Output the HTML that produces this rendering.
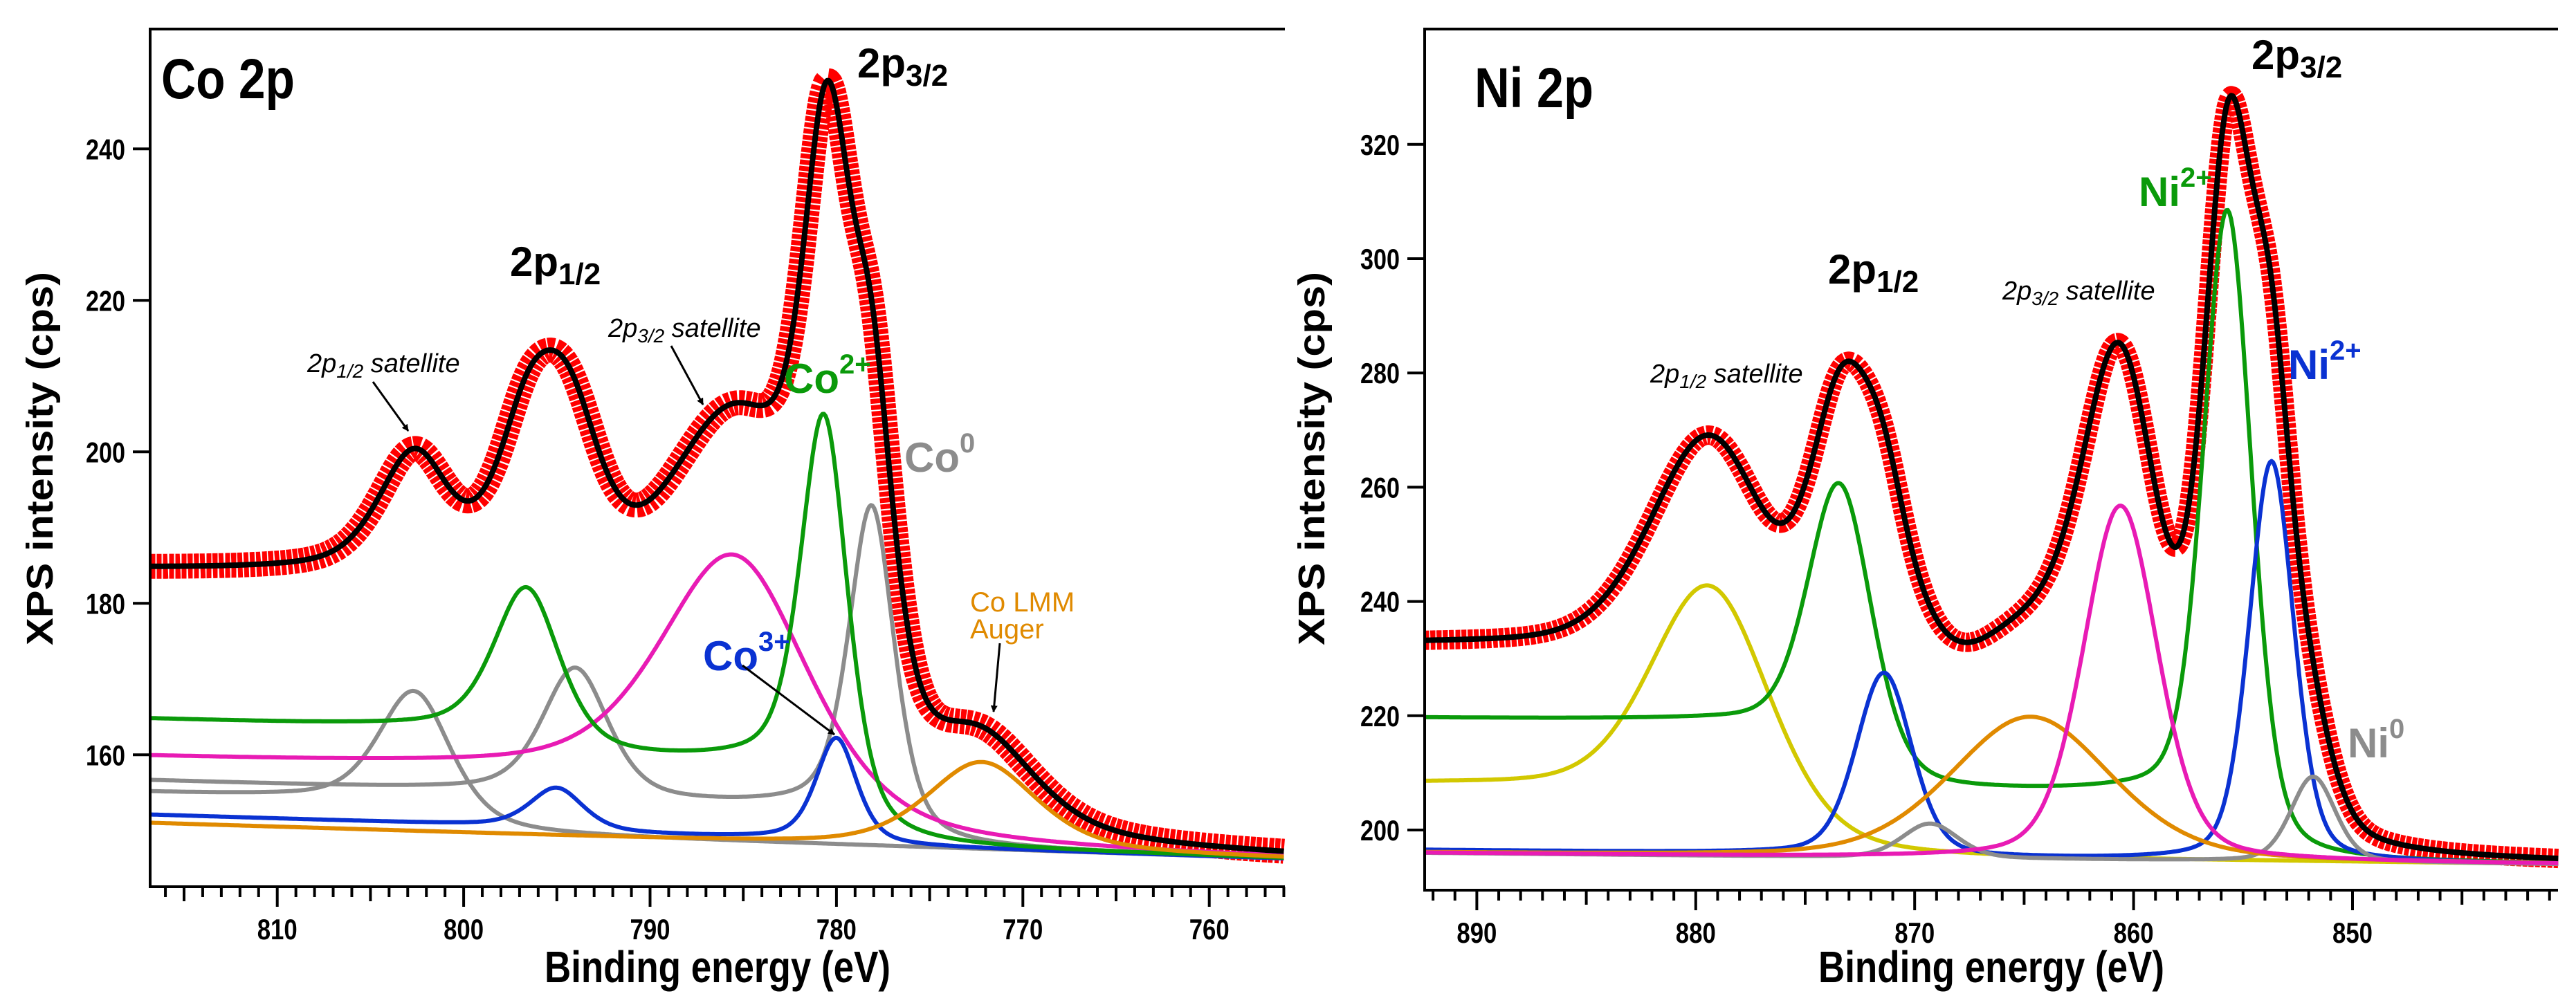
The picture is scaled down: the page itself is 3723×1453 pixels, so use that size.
<!DOCTYPE html>
<html><head><meta charset="utf-8">
<style>
html,body{margin:0;padding:0;background:#fff;}
svg{display:block;}
.tk{font-family:"Liberation Sans Narrow","Liberation Sans",sans-serif;font-weight:bold;font-size:42px;}
.ttl{font-family:"Liberation Sans Narrow","Liberation Sans",sans-serif;font-weight:bold;}
.yt{font-family:"Liberation Sans",sans-serif;font-weight:bold;font-size:54px;}
.it{font-family:"Liberation Sans Narrow","Liberation Sans",sans-serif;font-style:italic;font-size:38px;}
</style></head>
<body>
<svg id="fig" width="3723" height="1453" viewBox="0 0 3723 1453" xmlns="http://www.w3.org/2000/svg">
<defs>
<marker id="ah" markerWidth="10" markerHeight="10" refX="9" refY="5" orient="auto" markerUnits="userSpaceOnUse"><path d="M0,0 L10,5 L0,10 z" fill="#000"/></marker>
<clipPath id="clipCo"><rect x="217" y="30" width="1642" height="1252"/></clipPath>
<clipPath id="clipNi"><rect x="2059" y="30" width="1640" height="1257"/></clipPath>
</defs>
<g id="co"></g>
<g id="ni"></g>

<!-- Co labels -->
<text class="ttl" x="233" y="142" font-size="82" textLength="193" lengthAdjust="spacingAndGlyphs">Co 2p</text>
<text class="ttl" x="1239" y="112" font-size="60">2p<tspan font-size="44" dy="12">3/2</tspan></text>
<text class="ttl" x="737" y="399" font-size="60">2p<tspan font-size="44" dy="12">1/2</tspan></text>
<text class="it" x="444" y="538">2p<tspan font-size="28" dy="8">1/2</tspan><tspan dy="-8"> satellite</tspan></text>
<line x1="539" y1="552" x2="590" y2="623" stroke="#000" stroke-width="3" marker-end="url(#ah)"/>
<text class="it" x="879" y="487">2p<tspan font-size="28" dy="8">3/2</tspan><tspan dy="-8"> satellite</tspan></text>
<line x1="970" y1="500" x2="1016" y2="585" stroke="#000" stroke-width="3" marker-end="url(#ah)"/>
<text class="ttl" x="1133" y="568" font-size="60" fill="#0a9a0a">Co<tspan font-size="40" dy="-28">2+</tspan></text>
<text class="ttl" x="1307" y="682" font-size="60" fill="#8c8c8c">Co<tspan font-size="40" dy="-28">0</tspan></text>
<text class="ttl" x="1016" y="969" font-size="60" fill="#0a32d2">Co<tspan font-size="40" dy="-28">3+</tspan></text>
<line x1="1073" y1="962" x2="1206" y2="1062" stroke="#000" stroke-width="3" marker-end="url(#ah)"/>
<text class="ttl" x="1402" y="884" font-size="40" fill="#e08a00" style="font-weight:normal">Co LMM</text>
<text class="ttl" x="1402" y="923" font-size="40" fill="#e08a00" style="font-weight:normal">Auger</text>
<line x1="1445" y1="930" x2="1436" y2="1029" stroke="#000" stroke-width="3" marker-end="url(#ah)"/>

<!-- Ni labels -->
<text class="ttl" x="2131" y="155" font-size="82" textLength="172" lengthAdjust="spacingAndGlyphs">Ni 2p</text>
<text class="ttl" x="3254" y="100" font-size="60">2p<tspan font-size="44" dy="12">3/2</tspan></text>
<text class="ttl" x="2642" y="410" font-size="60">2p<tspan font-size="44" dy="12">1/2</tspan></text>
<text class="it" x="2894" y="433">2p<tspan font-size="28" dy="8">3/2</tspan><tspan dy="-8"> satellite</tspan></text>
<text class="it" x="2385" y="553">2p<tspan font-size="28" dy="8">1/2</tspan><tspan dy="-8"> satellite</tspan></text>
<text class="ttl" x="3091" y="298" font-size="60" fill="#0a9a0a">Ni<tspan font-size="40" dy="-28">2+</tspan></text>
<text class="ttl" x="3307" y="548" font-size="60" fill="#0a32d2">Ni<tspan font-size="40" dy="-28">2+</tspan></text>
<text class="ttl" x="3393" y="1095" font-size="60" fill="#8c8c8c">Ni<tspan font-size="40" dy="-28">0</tspan></text>
</svg>
<script>
// ---------- Co 2p data ----------
const coXTicks = [810, 800, 790, 780, 770, 760];
const coYTicks = [160, 180, 200, 220, 240];
const coBaseline = [151.0, 146.3];           // cps at 816.8 eV and 756 eV
const coNames = ['co-gray-sat-a','co-gray-b','co-magenta','co-blue','co-green','co-orange'];
const coColors = ['#8c8c8c','#8c8c8c','#e81bb4','#0a32d2','#0a9a0a','#e08a00'];
const coCenters = [[802.6],[794.0,778.1],[785.4],[795.0,780.0],[796.6,780.65],[772.2]];
const coHeights = [[16.5],[17,42.5],[33.5],[5.5,13.8],[20.5,51.5],[11.5]];
const coWidths  = [[4.6],[4.2,2.9],[9.5],[3.4,2.6],[4.2,3.0],[7.0]];
const coSteps   = [[4.0],[1.0,4.6],[8.6],[0.6,0.5],[3.5,10.2],[0]];

// ---------- Ni 2p data ----------
const niXTicks = [890, 880, 870, 860, 850];
const niYTicks = [200, 220, 240, 260, 280, 300, 320];
const niBaseline = [196.0, 194.0];           // cps at 892.4 eV and 840.6 eV
const niNames = ['ni-yellow','ni-green','ni-blue','ni-gray','ni-orange','ni-magenta'];
const niColors = ['#d2c800','#0a9a0a','#0a32d2','#8c8c8c','#e08a00','#e81bb4'];
const niCenters = [[879.3],[873.4,855.7],[871.4,853.7],[869.3,851.8],[864.7],[860.6]];
const niHeights = [[41.2],[47.6,108],[32,70],[6,14.9],[24.9],[62]];
const niWidths  = [[6.4],[3.4,2.6],[3.0,2.4],[3.0,2.4],[8.6],[4.0]];
const niSteps   = [[12],[12,11.6],[0.5,0],[0,0],[0],[0]];

const NS = 'http://www.w3.org/2000/svg';
function pv(x,c,w,eta){const d=(x-c)/w;return (1-eta)*Math.exp(-4*Math.LN2*d*d)+eta/(1+4*d*d);}
function st(x,c,w){return 1/(1+Math.exp(-(x-c)/(w/2.5)));}
function mk(parent,tag,attrs){const e=document.createElementNS(NS,tag);for(const k in attrs)e.setAttribute(k,attrs[k]);parent.appendChild(e);return e;}

function drawPanel(g,cfg){
  const X=cfg.X,Y=cfg.Y;
  const base=e=>cfg.base[0]+(cfg.base[1]-cfg.base[0])*(cfg.eHi-e)/(cfg.eHi-cfg.eLo);
  const comp=(i,e)=>{let v=0;for(let j=0;j<cfg.centers[i].length;j++){v+=cfg.heights[i][j]*pv(e,cfg.centers[i][j],cfg.widths[i][j],cfg.eta)+cfg.steps[i][j]*st(e,cfg.centers[i][j],cfg.widths[i][j]);}return v;};
  const N=700, es=[];for(let k=0;k<=N;k++)es.push(cfg.eHi-(cfg.eHi-cfg.eLo)*k/N);
  const plot=mk(g,'g',{'clip-path':cfg.clip});
  const env=es.map(e=>{let v=base(e);for(let i=0;i<cfg.centers.length;i++)v+=comp(i,e);return v;});
  const envD=es.map((e,k)=>(k?'L':'M')+X(e).toFixed(1)+','+Y(env[k]).toFixed(1)).join('');
  const red=mk(plot,'path',{d:envD,fill:'none',stroke:'#ff0000','stroke-width':cfg.redW,'stroke-linejoin':'round','stroke-dasharray':'7 2'});
  
  
  for(let i=0;i<cfg.centers.length;i++){
    const d=es.map((e,k)=>(k?'L':'M')+X(e).toFixed(1)+','+Y(base(e)+comp(i,e)).toFixed(1)).join('');
    const p=mk(plot,'path',{d:d,fill:'none',stroke:cfg.colors[i],'stroke-width':6,'stroke-linejoin':'round'});
    
    
  }
  const ep=mk(plot,'path',{d:envD,fill:'none',stroke:'#000','stroke-width':8,'stroke-linejoin':'round'});
  
  
  const fr=mk(g,'path',{d:`M${cfg.R},${cfg.T}H${cfg.L}V${cfg.B}H${cfg.R}`,fill:'none',stroke:'#000','stroke-width':4});
  
  
  for(let e=Math.ceil(cfg.eLo);e<=Math.floor(cfg.eHi);e++){
    const x=X(e);const len=(e%10===0)?29:(e%5===0?21:15);
    mk(g,'line',{x1:x,y1:cfg.B,x2:x,y2:cfg.B+len,stroke:'#000','stroke-width':4});
  }
  cfg.xticks.forEach(v=>{
    const t=mk(g,'text',{x:X(v),y:cfg.B+76,'text-anchor':'middle',class:'tk',textLength:58,lengthAdjust:'spacingAndGlyphs'});t.textContent=v;
    
    
  });
  cfg.yticks.forEach(v=>{
    const y=Y(v);
    mk(g,'line',{x1:cfg.L-25,y1:y,x2:cfg.L,y2:y,stroke:'#000','stroke-width':4});
    const t=mk(g,'text',{x:cfg.L-36,y:y+15,'text-anchor':'end',class:'tk',textLength:57,lengthAdjust:'spacingAndGlyphs'});t.textContent=v;
    
    
  });
  const xt=mk(g,'text',{x:(cfg.L+cfg.R)/2,y:1420,'text-anchor':'middle',class:'ttl','font-size':64,textLength:500,lengthAdjust:'spacingAndGlyphs'});xt.textContent='Binding energy (eV)';
  
  
  const yt=mk(g,'text',{x:0,y:0,'text-anchor':'middle',class:'yt',transform:`translate(${cfg.yTitleX},663) rotate(-90)`,textLength:540,lengthAdjust:'spacingAndGlyphs'});yt.textContent='XPS intensity (cps)';
  
  
}

drawPanel(document.getElementById('co'),{
  X:e=>400.7+(810-e)*26.94, Y:v=>1091.3-(v-160)*10.95,
  eHi:816.8, eLo:756.0, L:217, R:1857, T:42, B:1282, eta:0.5,
  base:coBaseline, centers:coCenters, heights:coHeights, widths:coWidths, steps:coSteps,
  colors:coColors, names:coNames, xticks:coXTicks, yticks:coYTicks, redW:36, clip:'url(#clipCo)', yTitleX:76
});
drawPanel(document.getElementById('ni'),{
  X:e=>2134.4+(890-e)*31.64, Y:v=>1200-(v-200)*8.26,
  eHi:892.4, eLo:840.6, L:2059, R:3697, T:42, B:1287, eta:0.3,
  base:niBaseline, centers:niCenters, heights:niHeights, widths:niWidths, steps:niSteps,
  colors:niColors, names:niNames, xticks:niXTicks, yticks:niYTicks, redW:28, clip:'url(#clipNi)', yTitleX:1914
});
</script>
</body></html>
